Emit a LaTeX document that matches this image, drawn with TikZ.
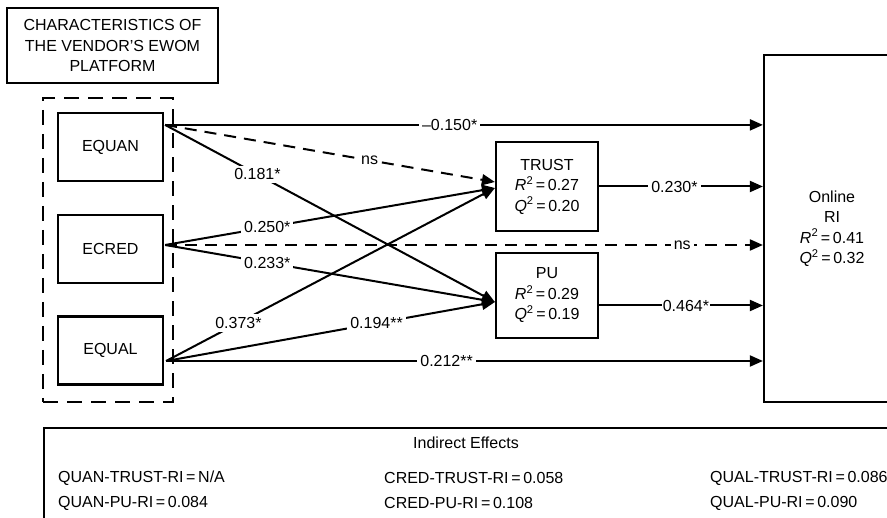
\documentclass[tikz,border=0pt]{standalone}
\usepackage{fontspec}
\setmainfont{Liberation Sans}
\usetikzlibrary{arrows.meta,calc}
\begin{document}
\begin{tikzpicture}[x=1pt,y=-1pt,
  font=\fontsize{16}{20.5}\selectfont,
  box/.style={draw, line width=2.2pt, align=center, inner sep=0pt},
  conn/.style={line width=2pt, -{Triangle[length=13pt,width=11pt]}},
  dashconn/.style={conn, dash pattern=on 12pt off 8pt},
  lbl/.style={fill=white, inner sep=3pt}]
\useasboundingbox (0,0) rectangle (887,518);
\clip (0,0) rectangle (887,518);

% title
\node[box, minimum width=211pt, minimum height=75pt] (title) at (112.5,45.5)
  {CHARACTERISTICS OF\\THE VENDOR’S EWOM\\PLATFORM};

% dashed frame
\node[draw, line width=2.6pt, dash pattern=on 15pt off 9pt,
      minimum width=130pt, minimum height=304pt, inner sep=0pt] (frame) at (108,250) {};

% predictors
\node[box, minimum width=105pt, minimum height=68pt] (EQUAN) at (110.5,147) {EQUAN};
\node[box, minimum width=105pt, minimum height=68pt] (ECRED) at (110.5,249) {ECRED};
\node[box, minimum width=105pt, minimum height=68pt] (EQUAL) at (110.5,350.5) {EQUAL};

% mediators
\node[box, minimum width=102pt, minimum height=89pt] (TRUST) at (547,186.5)
  {TRUST\\\textit{R}\textsuperscript{2}\,=\,0.27\\\textit{Q}\textsuperscript{2}\,=\,0.20};
\node[box, minimum width=102pt, minimum height=85pt] (PU) at (547,295.5)
  {PU\\\textit{R}\textsuperscript{2}\,=\,0.29\\\textit{Q}\textsuperscript{2}\,=\,0.19};

% outcome
\node[box, minimum width=136pt, minimum height=347pt] (online) at (832,228.5)
  {Online\\RI\\\textit{R}\textsuperscript{2}\,=\,0.41\\\textit{Q}\textsuperscript{2}\,=\,0.32};

% start points
\coordinate (qn) at ($(EQUAN.north east)+(1,13)$);
\coordinate (cr) at ($(ECRED.east)+(1,-4)$);
\coordinate (ql) at ($(EQUAL.east)+(2,10.5)$);
\coordinate (tIn) at ($(TRUST.west)+(0,-4.5)$);
\coordinate (tIn2) at ($(TRUST.west)+(0,1.5)$);
\coordinate (pIn) at ($(PU.west)+(0,6.5)$);
\coordinate (pOut) at ($(PU.east)+(0,10)$);

% direct paths to Online RI
\draw[conn] (qn) -- (qn -| online.west) node[lbl,pos=.476] {–0.150*};
\draw[dashconn] (cr) -- (cr -| online.west) node[lbl,pos=.865] {ns};
\draw[conn] (ql) -- (ql -| online.west) node[lbl,pos=.47] {0.212**};
\draw[conn] (TRUST.east) -- (TRUST.east -| online.west) node[lbl,pos=.46] {0.230*};
\draw[conn] (pOut) -- (pOut -| online.west) node[lbl,pos=.53,inner xsep=1pt] {0.464*};

% paths to mediators
\draw[dashconn] (qn) -- (tIn) node[lbl,pos=.62] {ns};
\draw[conn] (qn) -- (pIn) node[lbl,pos=.28] {0.181*};
\draw[conn] (cr) -- (tIn2) node[lbl,pos=.31] {0.250*};
\draw[conn] (cr) -- (pIn) node[lbl,pos=.31] {0.233*};
\draw[conn] (ql) -- (tIn2) node[lbl,pos=.22] {0.373*};
\draw[conn] (ql) -- (pIn) node[lbl,pos=.64] {0.194**};

% indirect effects
\node[draw, line width=2.2pt, minimum width=846pt, minimum height=130pt,
      anchor=north west, inner sep=0pt] (ind) at (43,427) {};
\node (ieT) at (466,443) {Indirect Effects};
\node[anchor=west, inner sep=0pt] (i11) at (58,478) {QUAN-TRUST-RI\,=\,N/A};
\node[anchor=west, inner sep=0pt] (i21) at (58,503) {QUAN-PU-RI\,=\,0.084};
\node[anchor=west, inner sep=0pt] (i12) at (384,478) {CRED-TRUST-RI\,=\,0.058};
\node[anchor=west, inner sep=0pt] (i22) at (384,503) {CRED-PU-RI\,=\,0.108};
\node[anchor=west, inner sep=0pt] (i13) at (710,478) {QUAL-TRUST-RI\,=\,0.086};
\node[anchor=west, inner sep=0pt] (i23) at (710,503) {QUAL-PU-RI\,=\,0.090};
\end{tikzpicture}
\end{document}
